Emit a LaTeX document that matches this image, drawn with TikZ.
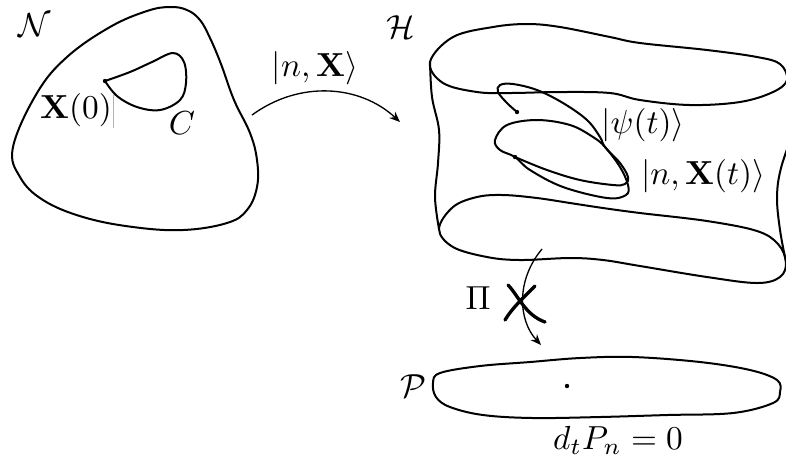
\documentclass[tikz,border=0pt]{standalone}
\usetikzlibrary{arrows.meta}
\begin{document}
\begin{tikzpicture}[x=0.3pt,y=-0.3pt,
  outline/.style={line width=0.6pt, line join=round},
  mapto/.style={line width=0.4pt, -{Stealth[length=3.2pt,width=2.6pt]}},
  crossmark/.style={line width=1.0pt, line cap=round},
  lbl/.style={inner sep=0pt}]
\useasboundingbox (0,0) rectangle (786,460);
\begin{scope}
\clip (0,0) rectangle (786,460);
% N manifold
\draw[outline] plot[smooth cycle, tension=0.65] coordinates {(13,147) (37,93) (67,57) (110,27) (147,11) (170,7) (187,10) (200,20) (210,38) (221,64) (234,100) (250,133) (257,160) (257,187) (247,210) (227,223) (183,230) (133,227) (83,217) (43,200) (20,177)};
\draw[outline] plot[smooth, tension=0.6] coordinates {(105,81) (130,72) (152,62) (173,53) (184,62) (186,83) (180,100) (160,110) (137,107) (117,96) (105,81)};
\fill (105,81) circle[radius=2.2];
\draw[gray!60, line width=0.15pt] (113,95) -- (113,128);
% H
\draw[outline] plot[smooth cycle, tension=0.6] coordinates {(430,62) (453,37) (493,27) (527,24) (560,27) (610,37) (640,43) (707,50) (757,57) (780,64) (787,80) (773,92) (740,102) (690,105) (640,100) (610,93) (560,92) (510,93) (477,92) (443,83)};
\draw[outline] plot[smooth, tension=0.6] coordinates {(430,62) (432,97) (439,130) (438,163) (435,197) (439,229)};
\draw[outline] plot[smooth, tension=0.6] coordinates {(794,130) (781,168) (777,197) (780,230) (786,262)};
\draw[outline] plot[smooth cycle, tension=0.6] coordinates {(439,229) (453,207) (477,197) (503,195) (537,198) (570,203) (603,208) (640,213) (707,221) (757,231) (778,244) (786,262) (780,277) (757,283) (707,277) (640,266) (603,260) (570,258) (520,260) (487,257) (453,247)};
% curves in H
\draw[outline] plot[smooth, tension=0.6] coordinates {(517,112) (507,103) (498,92) (500,85) (513,84) (537,90) (563,103) (587,120) (600,137) (605,147) (620,163) (628,177) (625,184) (613,185) (580,180) (547,170) (515,157)};
\draw[outline] plot[smooth cycle, tension=0.6] coordinates {(495,140) (507,125) (537,120) (570,125) (593,137) (605,147) (620,167) (628,185) (626,195) (607,198) (563,187) (530,170) (515,157) (500,150)};
\fill (517,112) circle[radius=2.2];
\fill (515,157) circle[radius=2.2];
% P
\draw[outline] plot[smooth cycle, tension=0.6] coordinates {(440,373) (480,366) (530,362) (580,358) (633,357) (700,362) (750,370) (777,380) (780,392) (773,403) (733,413) (667,415) (600,417) (533,418) (483,415) (450,407) (436,397) (433,383)};
\fill (567,386) circle[radius=2.2];
\end{scope}
% maps
\coordinate (a1) at (252,115);
\coordinate (a2) at (400,122);
\draw[mapto] (a1) .. controls (300,80) and (360,85) .. (a2);
\coordinate (b1) at (542,249);
\coordinate (b2) at (541,345);
\draw[mapto] (b1) .. controls (516,280) and (518,320) .. (b2);
\draw[crossmark] (508,285) .. controls (518,295) and (525,315) .. (545,322);
\draw[crossmark] (535,286) .. controls (525,296) and (512,308) .. (505,320);
% labels
\node[lbl] (lN) at (35,25) {$\mathcal{N}$};
\node[lbl] (lX0) at (76,110) {$\mathbf{X}(0)$};
\node[lbl] (lC) at (182,123) {$C$};
\node[lbl] (lmap) at (315,68) {$|n,\mathbf{X}\rangle$};
\node[lbl] (lH) at (401,27) {$\mathcal{H}$};
\node[lbl] (lpsi) at (643,125) {$|\psi(t)\rangle$};
\node[lbl] (lnX) at (703,176) {$|n,\mathbf{X}(t)\rangle$};
\node[lbl] (lPi) at (478,298) {$\Pi$};
\node[lbl] (lP) at (413,386) {$\mathcal{P}$};
\node[lbl] (ld) at (618,440) {$d_tP_n=0$};
\end{tikzpicture}
\end{document}
